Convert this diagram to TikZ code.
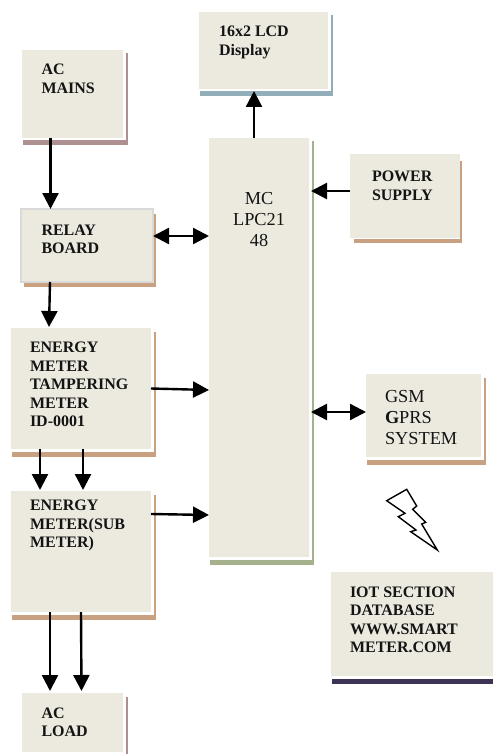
\documentclass[tikz,border=0pt]{standalone}
\usepackage{fontspec}
\setmainfont{Liberation Serif}
\usetikzlibrary{arrows.meta}
\definecolor{boxfill}{HTML}{ECEADF}
\definecolor{sblue}{HTML}{92AEB8}
\definecolor{smauve}{HTML}{AE9090}
\definecolor{stan}{HTML}{C9A080}
\definecolor{sgreen}{HTML}{A5B08C}
\definecolor{spurple}{HTML}{3F3355}
\tikzset{
  blockbox/.style={fill=boxfill,draw=none,inner sep=0pt,outer sep=0pt},
  lbl/.style={inner sep=0pt,outer sep=0pt,anchor=north west,align=left,text=black!92,font=\fontsize{16}{18.5}\selectfont\bfseries},
  lblreg/.style={inner sep=0pt,outer sep=0pt,align=left,text=black!92,font=\fontsize{18.3}{21}\selectfont},
  conn/.style={line width=2.4pt,-{Triangle[length=16pt,width=16pt]}},
  conntwo/.style={line width=2.4pt,{Triangle[length=16pt,width=16pt]}-{Triangle[length=16pt,width=16pt]}},
  bolt/.style={draw=black,line width=1.4pt,fill=white,line join=miter}
}
% name, x0, y0, x1, y1, shadow colour
\newcommand{\blockat}[6]{%
  \fill[#6] ({#2+1},{#3+3.5}) rectangle ({#4+4.5},{#5+7.5});
  \fill[white] ({#2},{#3}) rectangle ({#4+2.5},{#5+2.5});
  \node[blockbox,minimum width={(#4-#2)*1pt},minimum height={(#5-#3)*1pt}] (#1) at ({(#2+#4)/2},{(#3+#5)/2}) {};
}
\begin{document}
\begin{tikzpicture}[x=1pt,y=-1pt]
\useasboundingbox (0,0) rectangle (492,754);
\blockat{lcd}{199}{12}{328}{89}{sblue}
\blockat{acmains}{22}{50}{123}{138}{smauve}
\blockat{mc}{209}{138}{309}{557}{sgreen}
\blockat{em}{11}{328}{151}{449}{stan}
\blockat{sub}{11}{491}{151}{612}{stan}
\blockat{acload}{22}{693}{123}{752}{smauve}
\blockat{gsm}{366}{374}{481}{457}{stan}
\blockat{iot}{331}{572}{494}{676}{spurple}
% power supply: shadow touching the box on the right
\fill[stan] (354,161) rectangle (462,243);
\fill[white] (350,238) rectangle (460,239);
\node[blockbox,minimum width=110pt,minimum height=84pt] (power) at (405,196) {};
% relay board with a grey border
\fill[stan] (24,214) rectangle (156,287);
\node[blockbox,draw=black!15,line width=2pt,minimum width=132pt,minimum height=73pt] (relay) at (87,245.5) {};
% labels
\node[lbl] (t1) at (219,26) {16x2 LCD\\Display};
\node[lbl] (t2) at (41.5,64) {AC\\MAINS};
\node[lbl] (t3) at (41.5,224.6) {RELAY\\BOARD};
\node[lbl] (t4) at (372,171) {POWER\\SUPPLY};
\node[lbl] (t5) at (30,342) {ENERGY\\METER\\TAMPERING\\METER\\ID-0001};
\node[lbl] (t6) at (30,500) {ENERGY\\METER(SUB\\METER)};
\node[lbl] (t7) at (41.5,707.6) {AC\\LOAD};
\node[lbl] (t8) at (350,586.6) {IOT SECTION\\DATABASE\\WWW.SMART\\METER.COM};
\node[lblreg,anchor=north west] (t9) at (385,390) {GSM\\\textbf{G}PRS\\SYSTEM};
\node[lblreg,anchor=north,align=center] (t10) at (259,192) {MC\\LPC21\\48};
% bolt
\draw[bolt] (406.7,489.3) -- (386.7,500.7) -- (405,513.3) -- (398.3,516.7) -- (416,530) -- (410.7,531.7) -- (437.3,550) -- (421.7,524) -- (425.7,522.3) -- (412.7,509.3) -- (416.7,506) -- cycle;
% connectors
\draw[conn] ([xshift=-22pt]acmains.south) -- ([xshift=-36.5pt]relay.north);
\draw[conn] ([xshift=-37pt]relay.south) -- ([xshift=-32pt,yshift=1pt]em.north);
\draw[conntwo] ([yshift=9.5pt]relay.east) -- ([yshift=111.5pt]mc.west);
\draw[conn] ([xshift=-5pt]mc.north) -- ([xshift=-9.5pt,yshift=-2pt]lcd.south);
\draw[conn] ([yshift=5pt]power.west) -- ([xshift=2pt,yshift=156.5pt]mc.east);
\draw[conn] (em.east) -- ([yshift=-42.5pt]mc.west);
\draw[conn] ([xshift=-41pt]em.south) -- ([xshift=-41pt,yshift=1pt]sub.north);
\draw[conn] ([xshift=2pt]em.south) -- ([xshift=2pt,yshift=1pt]sub.north);
\draw[conn] ([yshift=37.5pt]sub.east) -- ([yshift=-167.5pt]mc.west);
\draw[conn] ([xshift=-31pt]sub.south) -- ([xshift=-22.5pt,yshift=2pt]acload.north);
\draw[conn] (sub.south) -- ([xshift=9pt,yshift=2pt]acload.north);
\draw[conntwo] ([xshift=2pt,yshift=-64.5pt]mc.east) -- ([yshift=3.5pt]gsm.west);
\end{tikzpicture}
\end{document}
